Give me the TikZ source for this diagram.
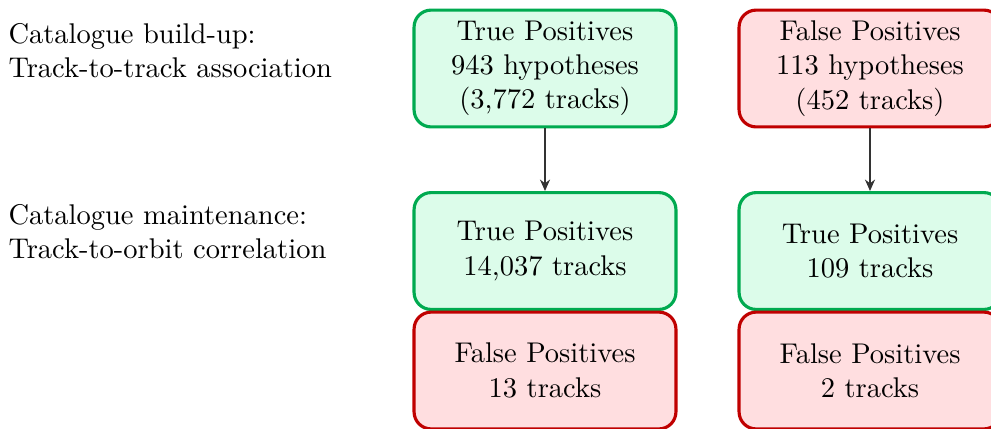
\documentclass[tikz,border=0pt]{standalone}
\usepackage{tikz}
\usetikzlibrary{arrows.meta,positioning}
\definecolor{tpgreen}{RGB}{0,170,80}
\definecolor{tpfill}{RGB}{220,252,234}
\definecolor{fpred}{RGB}{192,0,0}
\definecolor{fpfill}{RGB}{255,222,224}
\tikzset{
  tpbox/.style={draw=tpgreen, rounded corners=6pt, line width=1.1pt, align=center, fill=tpfill, minimum width=91.9pt, minimum height=41pt, inner sep=0pt},
  fpbox/.style={draw=fpred, rounded corners=6pt, line width=1.1pt, align=center, fill=fpfill, minimum width=91.9pt, minimum height=41pt, inner sep=0pt},
  stagetext/.style={anchor=west, align=left, inner sep=0pt},
  line/.style={-{Stealth[length=4pt,width=3.5pt]}, line width=1pt, black!80}
}
\begin{document}
\begin{tikzpicture}[x=0.3509pt,y=-0.3509pt]
  \useasboundingbox (0,0) rectangle (991,428);
  % stages
  \node[stagetext] (buildup) at (8,50.5) {Catalogue build-up:\\Track-to-track association};
  \node[stagetext] (maint) at (8,232) {Catalogue maintenance:\\Track-to-orbit correlation};
  % build-up results
  \node[tpbox] (tpbuild) at (545,68.5) {True Positives\\943 hypotheses\\(3,772 tracks)};
  \node[fpbox] (fpbuild) at (870,68.5) {False Positives\\113 hypotheses\\(452 tracks)};
  % maintenance results
  \node[tpbox] (tpmaintl) at (545,251) {True Positives\\14,037 tracks};
  \node[fpbox] (fpmaintl) at (545,370.5) {False Positives\\13 tracks};
  \node[tpbox] (tpmaintr) at (870,251) {True Positives\\109 tracks};
  \node[fpbox] (fpmaintr) at (870,370.5) {False Positives\\2 tracks};
  \draw[line] (tpbuild) -- (tpmaintl);
  \draw[line] (fpbuild) -- (tpmaintr);
\end{tikzpicture}
\end{document}
